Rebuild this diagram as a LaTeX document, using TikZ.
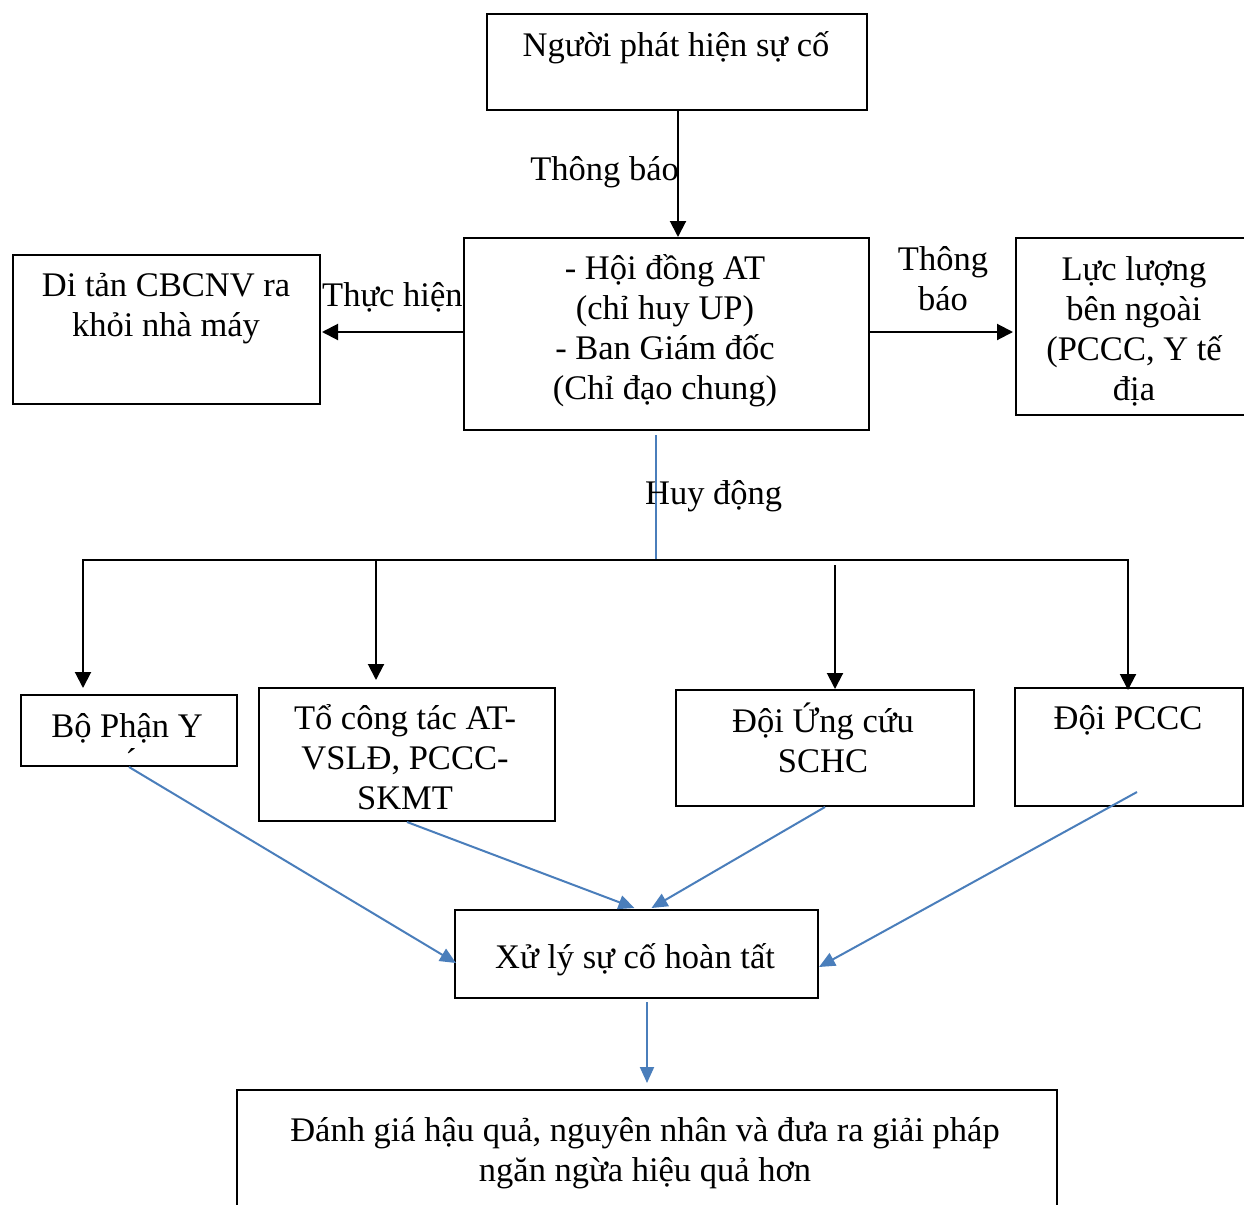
\documentclass[tikz,border=0pt]{standalone}
\usepackage{fontspec}
\setmainfont{Liberation Serif}
\usetikzlibrary{arrows.meta,calc}
\definecolor{linkblue}{RGB}{74,126,187}
\tikzset{
  box/.style={draw=black, line width=2pt, inner sep=0pt, anchor=north west},
  % multi-line texts are placed by the baseline of their last line
  txt/.style={font=\fontsize{34.5}{39.7}\selectfont, align=center, inner sep=0pt, anchor=base},
  blackarrow/.style={draw=black, line width=2pt, -{Triangle[length=16pt,width=16pt]}},
  bluearrow/.style={draw=linkblue, line width=2pt, -{Triangle[length=16pt,width=14pt]}},
  blueline/.style={draw=linkblue, line width=2pt},
}
\begin{document}
\begin{tikzpicture}[x=1pt,y=-1pt]
\clip (0,0) rectangle (1244,1204);
\fill[white] (0,0) rectangle (1244,1204);

% boxes
\node[box, minimum width=380pt, minimum height=96pt]  (A) at (486,13)   {};
\node[box, minimum width=405pt, minimum height=192pt] (B) at (463,237)  {};
\node[box, minimum width=307pt, minimum height=149pt] (C) at (12,254)   {};
\node[box, minimum width=238pt, minimum height=177pt] (D) at (1015,237) {};
\node[box, minimum width=216pt, minimum height=71pt]  (E) at (20,694)   {};
\node[box, minimum width=296pt, minimum height=133pt] (F) at (258,687)  {};
\node[box, minimum width=298pt, minimum height=116pt] (G) at (675,689)  {};
\node[box, minimum width=228pt, minimum height=118pt] (H) at (1014,687) {};
\node[box, minimum width=363pt, minimum height=88pt]  (X) at (454,909)  {};
\node[box, minimum width=820pt, minimum height=130pt] (Z) at (236,1089) {};

% box texts
\node[txt] (A-t) at (676,57) {Người phát hiện sự cố};
\node[txt] (B-t) at (665,399) {- Hội đồng AT\\(chỉ huy UP)\\- Ban Giám đốc\\(Chỉ đạo chung)};
\node[txt] (C-t) at (166,336) {Di tản CBCNV ra\\khỏi nhà máy};
\node[txt] (D-t) at (1134,400) {Lực lượng\\bên ngoài\\(PCCC, Y tế\\địa};
\node[txt] (E-t) at (127,737) {Bộ Phận Y};
\node[txt] (E-m) at (131,772) {´};
\node[txt] (F-t) at (405,809) {Tổ công tác AT-\\VSLĐ, PCCC-\\SKMT};
\node[txt] (G-t) at (823,772) {Đội Ứng cứu\\SCHC};
\node[txt] (H-t) at (1128,729) {Đội PCCC};
\node[txt] (X-t) at (635,968) {Xử lý sự cố hoàn tất};
\node[txt] (Z-t) at (645,1181) {Đánh giá hậu quả, nguyên nhân và đưa ra giải pháp\\ngăn ngừa hiệu quả hơn};

% routing coordinates
\coordinate (colA) at (678,0);
\coordinate (rowB) at (0,332);
\coordinate (colH) at (656,0);
\coordinate (busL) at (83,560);
\coordinate (busF) at (376,560);
\coordinate (busG) at (835,565);
\coordinate (busR) at (1128,560);
\coordinate (busM) at (656,560);

% connectors from the top
\draw[blackarrow] (A.south -| colA) -- (B.north -| colA);
\node[txt, anchor=base east] (l-notify) at (679,180) {Thông báo};

\draw[blackarrow] (B.west |- rowB) -- ([xshift=1pt]C.east |- rowB);
\node[txt, anchor=base west] (l-do) at (322,306) {Thực hiện};

\draw[blackarrow] (B.east |- rowB) -- ([xshift=-2pt]D.west |- rowB);
\node[txt] (l-notify2) at (943,310) {Thông\\báo};

% mobilisation bus
\draw[blueline] ([yshift=-4pt]B.south -| colH) -- (busM);
\node[txt, anchor=base west] (l-mob) at (645,504) {Huy động};

\draw[draw=black, line width=2pt, {Triangle[length=16pt,width=16pt]}-{Triangle[length=16pt,width=16pt]}]
  ([yshift=6pt]E.north -| busL) |- (busR) -- ([yshift=-3pt]H.north -| busR);
\draw[blackarrow] (busF) -- ([yshift=7pt]F.north -| busF);
\draw[blackarrow] (busG) -- (G.north -| busG);

% convergence on the completion box
\draw[bluearrow] (E.south) -- ([xshift=2pt,yshift=-9pt]X.west);
\draw[bluearrow] (F.south) -- ([xshift=-2pt,yshift=1pt]X.north);
\draw[bluearrow] (G.south) -- ([xshift=15pt,yshift=1pt]X.north);
\draw[bluearrow] ([xshift=8pt,yshift=15pt]H.south) -- ([yshift=-13pt]X.east);
\draw[bluearrow, shorten <=3pt, shorten >=6pt] (X.south -| Z.north) -- (Z.north);
\end{tikzpicture}
\end{document}
